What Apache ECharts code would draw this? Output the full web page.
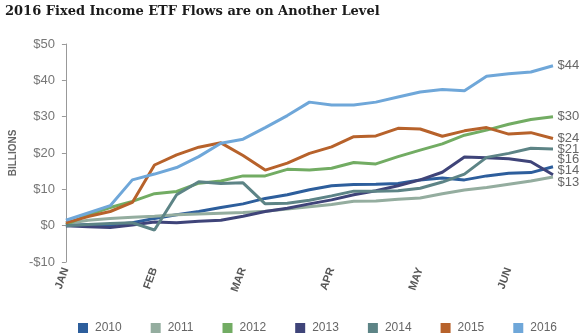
<!DOCTYPE html>
<html>
<head>
<meta charset="utf-8">
<script src="https://cdn.jsdelivr.net/npm/echarts@6/dist/echarts.min.js"></script>
<style>
html,body{margin:0;padding:0;background:#fff;font-family:'Liberation Sans',Arial,sans-serif;}
#chart{width:580px;height:335px;}
</style>
</head>
<body>
<div id="chart"></div>
<script>
// weekly observation points (cumulative flows, $ billions)
const weeks = ['Jan 1','Jan 8','Jan 15','Jan 22','Jan 29','Feb 5','Feb 12','Feb 19','Feb 26','Mar 4','Mar 11','Mar 18','Mar 25','Apr 1','Apr 8','Apr 15','Apr 22','Apr 29','May 6','May 13','May 20','May 27','Jun 3'];
const monthLabels = ['JAN','FEB','MAR','APR','MAY','JUN'];
const yTicks = [-10, 0, 10, 20, 30, 40, 50];
const years = ['2010','2011','2012','2013','2014','2015','2016'];

const s2010 = [0, 0.3, 0.2, 0.8, 2.0, 3.0, 3.9, 5.0, 6.0, 7.5, 8.5, 9.9, 11.0, 11.3, 11.4, 11.6, 12.6, 13.1, 12.6, 13.7, 14.4, 14.6, 16.2];
const s2011 = [0.5, 1.5, 2.0, 2.3, 2.6, 3.0, 3.2, 3.4, 3.6, 4.0, 4.6, 5.2, 5.8, 6.7, 6.8, 7.3, 7.6, 8.8, 9.8, 10.5, 11.4, 12.3, 13.4];
const s2012 = [0.3, 3.0, 5.0, 6.7, 8.8, 9.4, 11.7, 12.3, 13.7, 13.7, 15.5, 15.3, 15.8, 17.4, 17.0, 19.0, 20.8, 22.5, 24.9, 26.3, 27.9, 29.2, 30.0];
const s2013 = [0, -0.3, -0.5, 0.2, 1.0, 0.8, 1.2, 1.5, 2.6, 3.9, 4.8, 6.0, 7.1, 8.5, 9.6, 11.0, 12.6, 14.7, 18.9, 18.7, 18.4, 17.6, 14.0];
const s2014 = [0, 0.3, 0.6, 0.8, -1.2, 8.5, 12.1, 11.6, 11.8, 6.0, 6.2, 7.0, 8.2, 9.5, 9.5, 9.6, 10.3, 12.0, 14.2, 18.8, 19.9, 21.3, 21.1];
const s2015 = [0.8, 2.5, 3.9, 6.4, 16.7, 19.5, 21.6, 22.8, 19.3, 15.3, 17.2, 19.9, 21.7, 24.5, 24.7, 26.8, 26.6, 24.6, 26.1, 27.0, 25.2, 25.6, 24.0];
const s2016 = [1.5, 3.5, 5.5, 12.6, 14.2, 16.0, 19.0, 22.7, 23.8, 27.0, 30.3, 34.0, 33.2, 33.2, 34.0, 35.4, 36.8, 37.5, 37.1, 41.1, 41.8, 42.3, 44.0];

const seriesData = [s2010, s2011, s2012, s2013, s2014, s2015, s2016];
const colors = ['#2d5e9c', '#94ad9f', '#72ac63', '#3f4479', '#5d8486', '#b7622b', '#6fa7d9'];
const endOffsets = [[0,-7],[0,5],[0,0],[0,-4],[0,0],[0,0],[0,0]];

const FONT = 'Liberation Sans';
const chart = echarts.init(document.getElementById('chart'), null, {renderer:'canvas'});

chart.setOption({
  animation: false,
  color: colors,
  textStyle: {fontFamily: FONT},
  title: {
    text: '2016 Fixed Income ETF Flows are on Another Level',
    left: 0, top: 0,
    textStyle: {fontFamily: 'DejaVu Serif', fontWeight: 'bold', fontSize: 13, color: '#1a1a1a'}
  },
  legend: {
    top: 317, left: 73,
    itemWidth: 10, itemHeight: 10, itemGap: 29,
    icon: 'rect',
    textStyle: {fontFamily: FONT, fontSize: 12, color: '#666', padding: [0, 0, 0, 2]},
    data: years
  },
  grid: {left: 53, right: 27, top: 44, bottom: 73, containLabel: false},
  xAxis: {
    type: 'category',
    data: weeks,
    boundaryGap: false,
    axisLine: {show: false},
    axisTick: {show: false},
    splitLine: {show: false},
    axisLabel: {
      interval: function(idx){ return idx % 4 === 0; },
      formatter: function(val, idx){ return monthLabels[idx / 4] || ''; },
      rotate: 70,
      margin: 6,
      fontFamily: FONT, fontSize: 11, color: '#555', fontWeight: 'bold'
    }
  },
  yAxis: {
    type: 'value',
    min: yTicks[0], max: yTicks[yTicks.length-1], interval: 10,
    name: 'BILLIONS',
    nameLocation: 'middle',
    nameGap: 46,
    nameTextStyle: {fontFamily: FONT, fontSize: 10, fontWeight: 'bold', color: '#666'},
    axisLine: {show: true, lineStyle: {color: '#999', width: 1}},
    axisTick: {show: true, length: 4, lineStyle: {color: '#999'}},
    splitLine: {show: false},
    axisLabel: {
      margin: 11,
      formatter: function(v){ return (v < 0 ? '-$' : '$') + Math.abs(v); },
      fontFamily: FONT, fontSize: 13, color: '#777'
    }
  },
  series: years.map(function(y, i){
    const d = seriesData[i];
    const last = d.length - 1;
    return {
      name: y,
      type: 'line',
      data: d,
      symbol: 'none',
      lineStyle: {width: 3, color: colors[i]},
      itemStyle: {color: colors[i]},
      markPoint: {
        symbol: 'circle',
        symbolSize: 1,
        silent: true,
        itemStyle: {color: 'rgba(0,0,0,0)'},
        data: [{coord: [weeks[last], d[last]], value: d[last]}],
        label: {
          show: true,
          position: 'right',
          distance: 4,
          offset: endOffsets[i],
          formatter: function(p){ return '$' + Math.round(p.value); },
          fontFamily: FONT,
          fontSize: 13,
          color: '#666'
        }
      }
    };
  })
});
</script>
</body>
</html>
